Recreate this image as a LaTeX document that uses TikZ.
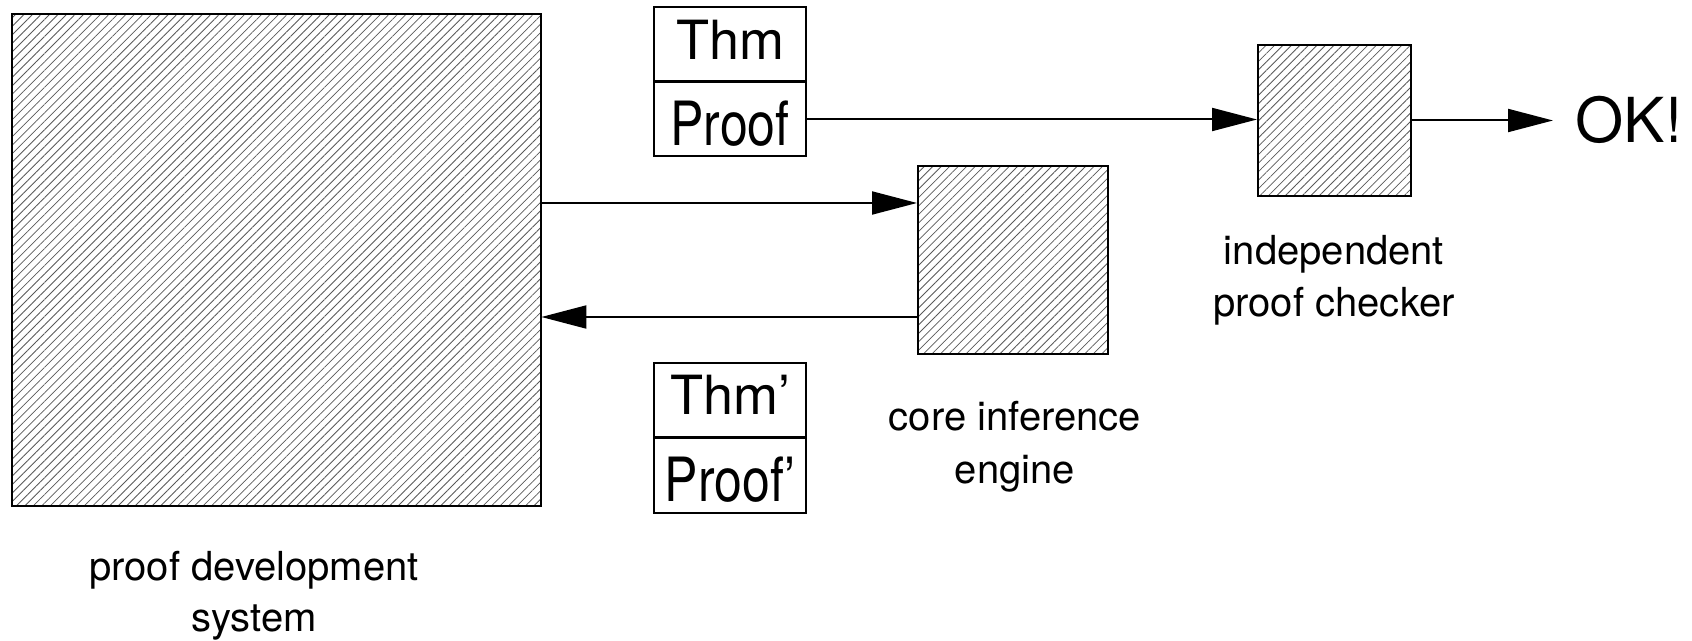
\documentclass[tikz,border=0pt]{standalone}
\usepackage{fontspec}
\setmainfont{TeX Gyre Heros}
\usetikzlibrary{arrows.meta,patterns.meta}
\begin{document}
\begin{tikzpicture}[x=0.5pt,y=-0.5pt,
  hatched/.style={draw,line width=1pt,inner sep=0pt,
    pattern={Lines[angle=45,distance=3pt,line width=0.4pt]},pattern color=black!65},
  thmbox/.style={draw,line width=1pt,inner sep=0pt,minimum width=76pt,
    text height=26pt,text depth=11pt,font=\fontsize{27}{30}\selectfont},
  proofbox/.style={draw,line width=1pt,inner sep=0pt,minimum width=76pt,
    text height=31.5pt,text depth=5.5pt,font=\fontsize{25}{28}\selectfont},
  lbl/.style={anchor=base,inner sep=0pt,font=\fontsize{20}{22}\selectfont},
  arr/.style={line width=1pt,-{Triangle[length=22.5pt,width=11.5pt]}}
]
\useasboundingbox (0,0) rectangle (1692,641);

\node[hatched,minimum width=264.5pt,minimum height=246pt] (big) at (276.5,260) {};
\node[hatched,minimum width=95pt,minimum height=94pt] (core) at (1013,260) {};
\node[hatched,minimum width=76.5pt,minimum height=75.5pt] (checker) at (1334.5,120.5) {};

\node[thmbox] (thm) at (730,44.5) {Thm};
\node[proofbox] (proof) at (730,119.5) {\scalebox{1}[1.22]{Proof}};
\node[thmbox] (thmp) at (730,400) {Thm’};
\node[proofbox] (proofp) at (730,475.5) {\scalebox{1}[1.22]{Proof’}};

\node[anchor=base west,inner xsep=11pt,inner ysep=0pt,font=\fontsize{31}{34}\selectfont] (ok) at (1553,143) {OK!};

\draw[arr] (proof.east) -- (proof.east -| checker.west);
\draw[arr] (checker.east) -- (checker.east -| ok.west);
\draw[arr] ([yshift=28.5pt]big.east) -- ([yshift=28.5pt]core.west);
\draw[arr] ([yshift=-28.5pt]core.west) -- ([yshift=-28.5pt]big.east);

\node[lbl] (pd1) at (254,580) {proof development};
\node[lbl] (pd2) at (254,631) {system};
\node[lbl] (ci1) at (1015,431) {core inference};
\node[lbl] (ci2) at (1015,483) {engine};
\node[lbl] (ip1) at (1334,265) {independent};
\node[lbl] (ip2) at (1334,317) {proof checker};
\end{tikzpicture}
\end{document}
